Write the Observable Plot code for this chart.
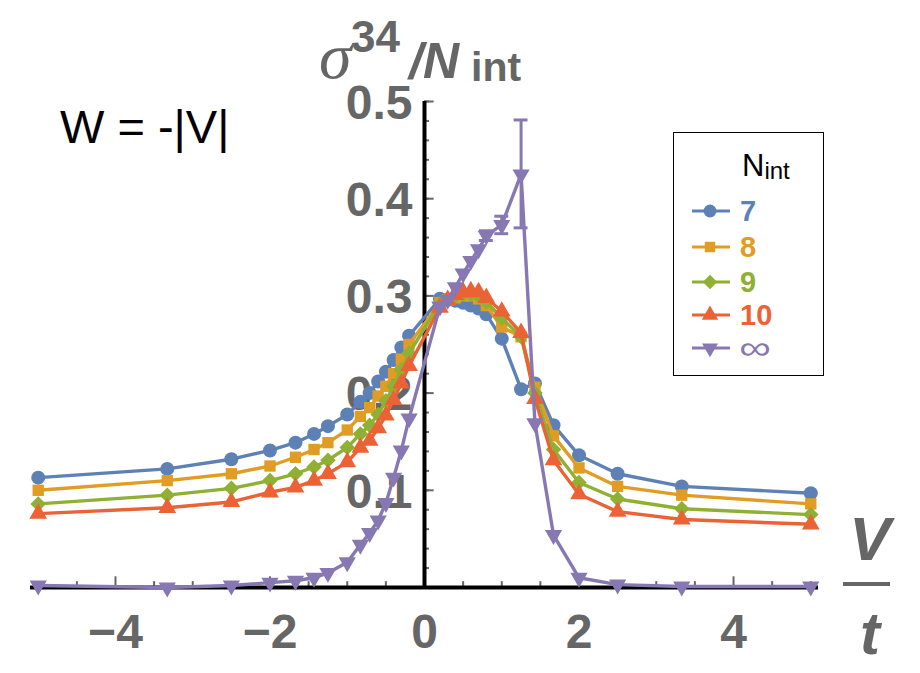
<!DOCTYPE html>
<html>
<head>
<meta charset="utf-8">
<script src="https://cdn.jsdelivr.net/npm/d3@7"></script>
<script src="https://cdn.jsdelivr.net/npm/@observablehq/plot@0.6"></script>
<style>
  body { margin: 0; background: #fff; }
  svg { display: block; }
</style>
</head>
<body>
<div id="chart"></div>
<script>
// Interaction strength V/t (shared grid for every series)
const vOverT = [-5, -3.33, -2.5, -2, -1.67, -1.43, -1.25, -1, -0.83, -0.71, -0.6, -0.5, -0.4, -0.3, -0.2,
                0.2, 0.3, 0.4, 0.5, 0.6, 0.7, 0.8, 1, 1.25, 1.43, 1.67, 2, 2.5, 3.33, 5];

// sigma^34 / N_int for each number of interaction sites
const sigmaN7 = [0.113, 0.122, 0.132, 0.141, 0.149, 0.158, 0.166, 0.178, 0.191, 0.200, 0.212, 0.222, 0.234, 0.247, 0.259,
                 0.297, 0.296, 0.295, 0.293, 0.290, 0.287, 0.281, 0.256, 0.204, 0.210, 0.167, 0.136, 0.117, 0.104, 0.097];
const sigmaN8 = [0.100, 0.110, 0.117, 0.125, 0.134, 0.142, 0.149, 0.162, 0.176, 0.185, 0.197, 0.207, 0.220, 0.235, 0.250,
                 0.293, 0.296, 0.298, 0.300, 0.300, 0.297, 0.290, 0.268, 0.258, 0.206, 0.156, 0.123, 0.104, 0.095, 0.086];
const sigmaN9 = [0.086, 0.095, 0.102, 0.110, 0.117, 0.124, 0.131, 0.144, 0.158, 0.167, 0.178, 0.192, 0.207, 0.224, 0.241,
                 0.292, 0.297, 0.300, 0.302, 0.302, 0.300, 0.294, 0.277, 0.258, 0.200, 0.142, 0.108, 0.091, 0.081, 0.075];
const sigmaN10 = [0.076, 0.082, 0.088, 0.098, 0.103, 0.110, 0.117, 0.129, 0.144, 0.151, 0.164, 0.177, 0.193, 0.210, 0.228,
                  0.288, 0.296, 0.301, 0.304, 0.305, 0.304, 0.298, 0.284, 0.262, 0.194, 0.131, 0.096, 0.078, 0.070, 0.065];
const sigmaInf = [0.002, 0.000, 0.002, 0.005, 0.007, 0.010, 0.015, 0.026, 0.044, 0.056, 0.069, 0.087, 0.113, 0.141, 0.174,
                  0.289, 0.296, 0.309, 0.323, 0.336, 0.348, 0.362, 0.373, 0.425, 0.169, 0.054, 0.010, 0.003, 0.001, 0.001];

// Extrapolated (N_int -> infinity) uncertainties
const errV = [0.8, 1, 1.25];
const errLow = [0.357, 0.364, 0.370];
const errHigh = [0.367, 0.382, 0.481];

const seriesLabels = ["7", "8", "9", "10", "\u221E"];
const seriesColors = ["#5E81B5", "#E19C24", "#8FB032", "#EB6235", "#8778B3"];

const xTickLabels = [-4, -2, 0, 2, 4];
const yTickLabels = [0.1, 0.2, 0.3, 0.4, 0.5];

// ---------------------------------------------------------------------------
const sans = "'Liberation Sans', Arial, Helvetica, sans-serif";
const tickGray = "#666666";

// downward-pointing triangle for the extrapolated series
const triangleDown = {
  draw(context, size) {
    const y = -Math.sqrt(size / (Math.sqrt(3) * 3));
    context.moveTo(0, -y * 2);
    context.lineTo(-Math.sqrt(3) * y, y);
    context.lineTo(Math.sqrt(3) * y, y);
    context.closePath();
  }
};
const seriesSymbols = ["circle", "square", "diamond2", "triangle", triangleDown];
const seriesRadius = [7, 6.4, 7, 6.6, 6.4];

const seriesValues = [sigmaN7, sigmaN8, sigmaN9, sigmaN10, sigmaInf];
const rows = seriesValues.map((ys) => vOverT.map((x, i) => ({x, y: ys[i]})));
const errRows = errV.map((x, i) => ({x, lo: errLow[i], hi: errHigh[i]}));

const xMinor = d3.range(-5, 5.001, 0.5).filter((d) => !xTickLabels.includes(d));
const yMinor = d3.range(0, 0.5001, 0.02).map((d) => +d.toFixed(2));
const yMajor = [0, ...yTickLabels];

const fmtX = (d) => (d < 0 ? "\u2212" + Math.abs(d) : String(d));

const dataMarks = [];
seriesValues.forEach((_, k) => {
  dataMarks.push(Plot.line(rows[k], {x: "x", y: "y", stroke: seriesColors[k], strokeWidth: 3.4, strokeLinejoin: "round"}));
  if (k === 4) {
    dataMarks.push(Plot.ruleX(errRows, {x: "x", y1: "lo", y2: "hi", stroke: seriesColors[k], strokeWidth: 3}));
    dataMarks.push(Plot.ruleY(errRows, {y: "lo", x1: (d) => d.x - 0.09, x2: (d) => d.x + 0.09, stroke: seriesColors[k], strokeWidth: 3}));
    dataMarks.push(Plot.ruleY(errRows, {y: "hi", x1: (d) => d.x - 0.09, x2: (d) => d.x + 0.09, stroke: seriesColors[k], strokeWidth: 3}));
  }
  dataMarks.push(Plot.dot(rows[k], {x: "x", y: "y", symbol: () => seriesSymbols[k], r: seriesRadius[k], fill: seriesColors[k], stroke: "none"}));
});

const chart = Plot.plot({
  width: 920,
  height: 673,
  marginLeft: 30,
  marginRight: 102,
  marginTop: 101,
  marginBottom: 86,
  style: {fontFamily: sans, background: "#fff"},
  x: {domain: [-5.1, 5.1], axis: null},
  y: {domain: [0, 0.5], axis: null},
  symbol: {type: "identity"},
  marks: [
    // tick labels sit beneath the curves
    Plot.text(yTickLabels, {x: 0, y: (d) => d, text: (d) => d.toFixed(1), dx: -12, dy: 2, textAnchor: "end",
      fontSize: 48, fontWeight: "bold", fill: tickGray}),
    Plot.text(xTickLabels, {x: (d) => d, y: 0, text: fmtX, dy: 45,
      fontSize: 48, fontWeight: "bold", fill: tickGray}),
    // tick marks drawn on the inner side of the axes
    Plot.ruleX(xMinor, {x: (d) => d, y1: 0, y2: 0.006, stroke: tickGray, strokeWidth: 2}),
    Plot.ruleX(xTickLabels, {x: (d) => d, y1: 0, y2: 0.011, stroke: tickGray, strokeWidth: 2}),
    Plot.ruleY(yMinor, {y: (d) => d, x1: 0, x2: 0.065, stroke: tickGray, strokeWidth: 2}),
    Plot.ruleY(yMajor, {y: (d) => d, x1: 0, x2: 0.125, stroke: tickGray, strokeWidth: 2}),
    // axis lines
    Plot.ruleY([0], {stroke: "#000", strokeWidth: 4}),
    Plot.ruleX([0], {y1: 0, y2: 0.5, stroke: "#000", strokeWidth: 4}),
    ...dataMarks
  ]
});

document.getElementById("chart").appendChild(chart);

// ---------------------------------------------------------------------------
// annotations: axis titles, model label and legend
const svg = d3.select(chart);
const xs = chart.scale("x"), ys = chart.scale("y");
const x0 = xs.apply(0), yTop = ys.apply(0.5), yBase = ys.apply(0);

// vertical axis title  sigma^34 / N_int
const yTitle = svg.append("g").attr("fill", tickGray).attr("text-anchor", "start");
yTitle.append("text").attr("x", x0 - 105).attr("y", yTop - 23)
  .style("font-family", "'Liberation Serif', 'DejaVu Serif', serif").style("font-style", "italic")
  .style("font-size", "66px").text("\u03C3");
yTitle.append("text").attr("x", x0 - 73).attr("y", yTop - 49)
  .style("font-family", sans).style("font-weight", "bold").style("font-size", "44px").text("34");
yTitle.append("text").attr("x", x0 - 15).attr("y", yTop - 23)
  .style("font-family", sans).style("font-weight", "bold").style("font-style", "italic")
  .style("font-size", "50px").text("/N");
yTitle.append("text").attr("x", x0 + 47).attr("y", yTop - 20)
  .style("font-family", sans).style("font-weight", "bold").style("font-size", "41px").text("int");

// horizontal axis title  V / t
const xRight = xs.apply(5.1);
const xTitle = svg.append("g").attr("fill", tickGray).attr("text-anchor", "middle")
  .style("font-family", sans).style("font-weight", "bold").style("font-style", "italic");
xTitle.append("text").attr("x", xRight + 52).attr("y", yBase - 27)
  .style("font-size", "62px").text("V");
xTitle.append("rect").attr("x", xRight + 25).attr("y", yBase - 5).attr("width", 47).attr("height", 4);
xTitle.append("text").attr("x", xRight + 52).attr("y", yBase + 67)
  .style("font-size", "60px").text("t");

// model label
svg.append("text").attr("x", 60).attr("y", 143).attr("text-anchor", "start")
  .style("font-family", sans).style("font-size", "47px").attr("fill", "#000").text("W = -|V|");

// legend
const legend = svg.append("g").attr("transform", "translate(673,132)").attr("text-anchor", "start");
legend.append("rect").attr("x", 0.5).attr("y", 0.5).attr("width", 150).attr("height", 243)
  .attr("fill", "#fff").attr("stroke", "#000").attr("stroke-width", 1);
const lt = legend.append("text").attr("x", 69).attr("y", 44).attr("fill", "#000")
  .style("font-family", sans).style("font-size", "31px");
lt.append("tspan").text("N");
lt.append("tspan").attr("dy", 3).style("font-size", "24px").text("int");
const rowY = [79, 115, 150, 183, 216];
seriesLabels.forEach((label, k) => {
  const g = legend.append("g").attr("transform", `translate(0,${rowY[k]})`);
  g.append("line").attr("x1", 19).attr("x2", 57).attr("stroke", seriesColors[k]).attr("stroke-width", 3);
  const sym = typeof seriesSymbols[k] === "string"
    ? {circle: d3.symbolCircle, square: d3.symbolSquare, diamond2: d3.symbolDiamond2, triangle: d3.symbolTriangle}[seriesSymbols[k]]
    : seriesSymbols[k];
  g.append("path").attr("transform", "translate(37,0)")
    .attr("d", d3.symbol(sym, Math.PI * seriesRadius[k] ** 2 * 0.85)())
    .attr("fill", seriesColors[k]);
  const t = g.append("text").attr("fill", seriesColors[k])
    .style("font-family", sans).style("font-weight", k === 4 ? "normal" : "bold")
    .style("font-size", k === 4 ? "33px" : "29px").text(label);
  if (k === 4) t.attr("transform", "translate(66,11) scale(1.35,1)");
  else t.attr("x", 67).attr("y", 10);
});
</script>
</body>
</html>
